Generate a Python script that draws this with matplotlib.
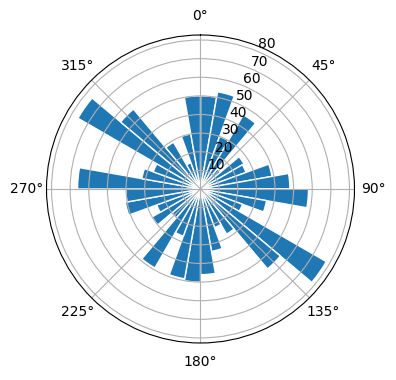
import numpy as np
import matplotlib
matplotlib.use("Agg")
import matplotlib.pyplot as plt

bin_start_deg = list(range(0, 360, 10))
counts = [50, 53, 30, 46, 14, 27, 26, 39, 48,
          58, 36, 24, 78, 56, 28, 22, 34, 46,
          50, 49, 27, 49, 20, 30, 25, 41, 40,
          66, 32, 27, 76, 56, 29, 15, 30, 50]
r_ticks = [10, 20, 30, 40, 50, 60, 70, 80]

fig = plt.figure(figsize=(3.96, 3.80), dpi=100)
ax = fig.add_axes([0.1174, 0.0974, 0.7778, 0.8105], projection="polar")
ax.set_theta_zero_location("N")
ax.set_theta_direction(-1)

theta = np.deg2rad(bin_start_deg)
width = np.deg2rad(10)
ax.bar(theta, counts, width=width, align="edge", color="#1f77b4",
       edgecolor="white", linewidth=1)
ax.set_ylim(0, 82.7)
ax.set_yticks(r_ticks)
fig.savefig("out.png", dpi=100)
